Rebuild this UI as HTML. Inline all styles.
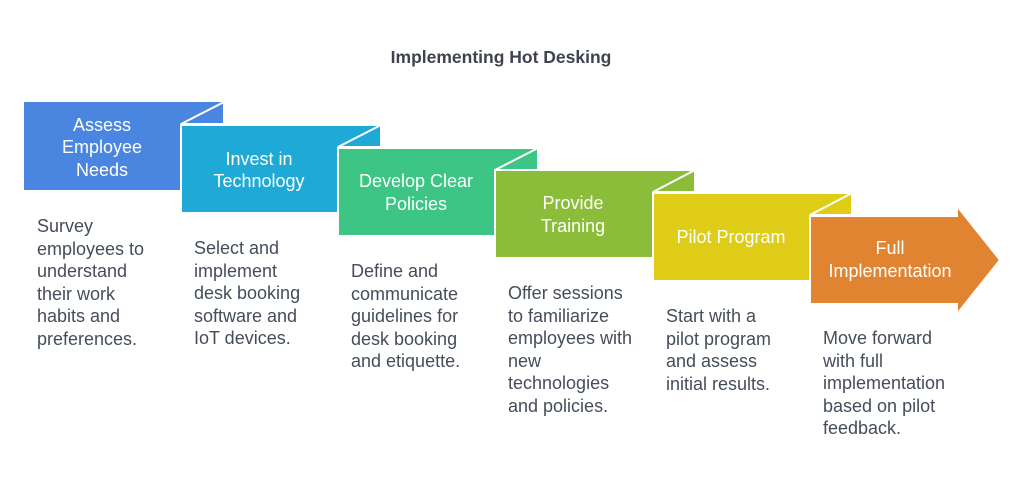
<!DOCTYPE html>
<html><head><style>
body{margin:0;background:#fff;width:1024px;height:485px;overflow:hidden;font-family:"Liberation Sans",sans-serif;}
.d{position:absolute;font-size:18px;line-height:22.5px;color:#454d5b;}
</style></head><body>
<svg width="1024" height="485" style="position:absolute;left:0;top:0" font-family="Liberation Sans, sans-serif">
<text x="501" y="63" text-anchor="middle" font-size="17.5" font-weight="bold" fill="#3f4350">Implementing Hot Desking</text>
<g stroke="#fff" stroke-width="2">
<rect x="24" y="102" width="200" height="88" fill="#4a86e0" stroke="none"/>
<polygon points="181,124 224,102 224,124" fill="#4a86e0"/>
<rect x="181" y="125" width="200" height="88" fill="#1fa9d6"/>
<polygon points="338,147 381,125 381,147" fill="#1fa9d6"/>
<rect x="338" y="148" width="200" height="88" fill="#3dc585"/>
<polygon points="495,170 538,148 538,170" fill="#3dc585"/>
<rect x="495" y="170" width="200" height="88" fill="#8bbd3a"/>
<polygon points="653,192 695,170 695,192" fill="#8bbd3a"/>
<rect x="653" y="193" width="199" height="88" fill="#dfcc17"/>
<polygon points="810,215 852,193 852,215" fill="#dfcc17"/>
<polygon points="810,216 957,216 957,206 1000,260 957,314 957,304 810,304" fill="#e08432"/>
</g>
<g fill="#fff" font-size="18" text-anchor="middle">
<text x="102" y="131">Assess</text><text x="102" y="153">Employee</text><text x="102" y="176">Needs</text>
<text x="259" y="165">Invest in</text><text x="259" y="187">Technology</text>
<text x="416" y="187">Develop Clear</text><text x="416" y="210">Policies</text>
<text x="573" y="209">Provide</text><text x="573" y="232">Training</text>
<text x="731" y="243">Pilot Program</text>
<text x="890" y="254">Full</text><text x="890" y="277">Implementation</text>
</g>
</svg>
<div class="d" style="left:37px;top:215px">Survey<br>employees to<br>understand<br>their work<br>habits and<br>preferences.</div>
<div class="d" style="left:194px;top:237px">Select and<br>implement<br>desk booking<br>software and<br>IoT devices.</div>
<div class="d" style="left:351px;top:260px">Define and<br>communicate<br>guidelines for<br>desk booking<br>and etiquette.</div>
<div class="d" style="left:508px;top:282px">Offer sessions<br>to familiarize<br>employees with<br>new<br>technologies<br>and policies.</div>
<div class="d" style="left:666px;top:305px">Start with a<br>pilot program<br>and assess<br>initial results.</div>
<div class="d" style="left:823px;top:327px">Move forward<br>with full<br>implementation<br>based on pilot<br>feedback.</div>
</body></html>
